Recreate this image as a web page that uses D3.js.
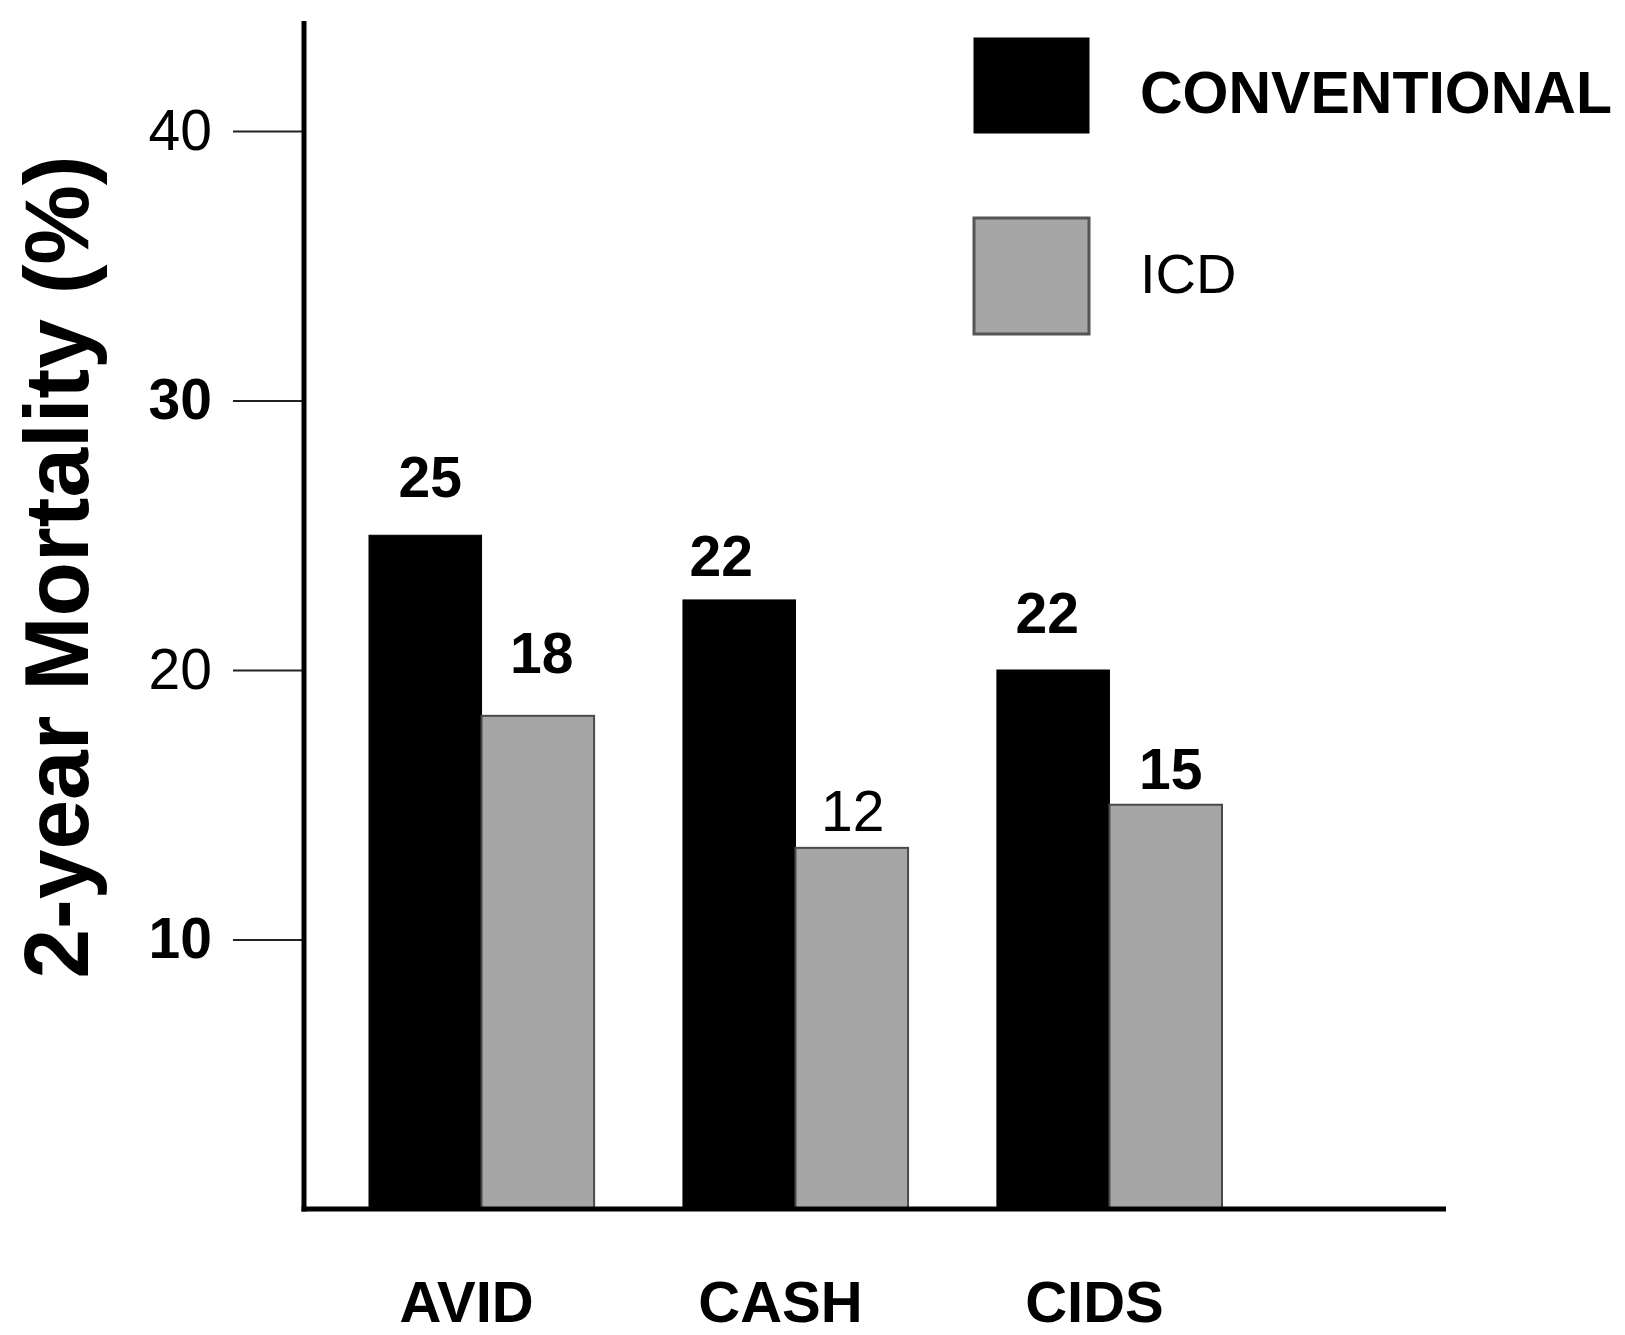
<!DOCTYPE html>
<html>
<head>
<meta charset="utf-8">
<script src="https://cdn.jsdelivr.net/npm/d3@7"></script>
<style>
  html, body { margin: 0; padding: 0; background: #fff; }
  svg { display: block; }
  text { font-family: "Liberation Sans", Arial, Helvetica, sans-serif; fill: #000; }
</style>
</head>
<body>
<svg id="chart" width="1625" height="1335"></svg>
<script>
// ---- data ----
const categories = ["AVID", "CASH", "CIDS"];
const seriesNames = ["CONVENTIONAL", "ICD"];
const conventionalValues = [25, 22.6, 20];
const icdValues = [18.3, 13.4, 15];
const conventionalLabels = ["25", "22", "22"];
const icdLabels = ["18", "12", "15"];
const conventionalLabelBold = [true, true, true];
const icdLabelBold = [true, false, true];
const tickValues = [10, 20, 30, 40];
const tickLabels = ["10", "20", "30", "40"];
const tickLabelBold = [true, false, true, false];
const yAxisTitle = "2-year Mortality (%)";

// ---- layout / style constants ----
const W = 1625, H = 1335;
const baseY = 1209, topY = 131, axisX = 304, axisTop = 21, axisRight = 1446;
const colors = { CONVENTIONAL: "#000000", ICD: "#a6a6a6" };
const strokes = { CONVENTIONAL: "#000000", ICD: "#4a4a4a" };
// per-bar label gap above bar top and horizontal nudge (layout only)
const labelGap = { CONVENTIONAL: [38, 24, 37], ICD: [43, 17, 16] };
const labelNudge = { CONVENTIONAL: [5, -18, -6], ICD: [4, 1, 5] };

const svg = d3.select("#chart");

const y = d3.scaleLinear().domain([0, 40]).range([baseY, topY]);
const x0 = d3.scaleBand().domain(categories).range([369, 1222]).paddingInner(0.283).paddingOuter(0);
const x1 = d3.scaleBand().domain(seriesNames).range([0, x0.bandwidth()]).padding(0);

const rows = categories.map((c, i) => ({
  cat: c,
  vals: [
    { s: "CONVENTIONAL", v: conventionalValues[i], label: conventionalLabels[i], bold: conventionalLabelBold[i], i },
    { s: "ICD", v: icdValues[i], label: icdLabels[i], bold: icdLabelBold[i], i }
  ]
}));

// bars
const g = svg.append("g");
const groups = g.selectAll("g.grp").data(rows).join("g")
  .attr("class", "grp")
  .attr("transform", d => `translate(${x0(d.cat)},0)`);

groups.selectAll("rect").data(d => d.vals).join("rect")
  .attr("x", d => x1(d.s))
  .attr("y", d => y(d.v))
  .attr("width", x1.bandwidth())
  .attr("height", d => y(0) - y(d.v))
  .attr("fill", d => colors[d.s])
  .attr("stroke", d => strokes[d.s])
  .attr("stroke-width", d => d.s === "ICD" ? 2 : 1);

// value labels
groups.selectAll("text.val").data(d => d.vals).join("text")
  .attr("class", "val")
  .attr("x", d => x1(d.s) + x1.bandwidth() / 2 + labelNudge[d.s][d.i])
  .attr("y", d => y(d.v) - labelGap[d.s][d.i])
  .attr("text-anchor", "middle")
  .attr("font-size", 57)
  .attr("font-weight", d => d.bold ? "bold" : "normal")
  .text(d => d.label);

// y axis (ticks + labels)
const yAxis = d3.axisLeft(y)
  .tickValues(tickValues)
  .tickSize(71)
  .tickPadding(21)
  .tickFormat((d, i) => tickLabels[i]);

const ya = svg.append("g").attr("transform", `translate(${axisX},0)`).call(yAxis);
ya.select(".domain").remove();
ya.selectAll(".tick line").attr("stroke", "#222").attr("stroke-width", 2);
ya.selectAll(".tick text")
  .attr("font-size", 57)
  .attr("font-family", "'Liberation Sans', Arial, sans-serif")
  .attr("fill", "#000")
  .attr("font-weight", (d, i) => tickLabelBold[i] ? "bold" : "normal");

// axis lines
svg.append("line")
  .attr("x1", axisX).attr("x2", axisX)
  .attr("y1", axisTop).attr("y2", baseY + 2.5)
  .attr("stroke", "#000").attr("stroke-width", 5);
svg.append("line")
  .attr("x1", axisX - 2.5).attr("x2", axisRight)
  .attr("y1", baseY).attr("y2", baseY)
  .attr("stroke", "#000").attr("stroke-width", 5);

// category labels
svg.selectAll("text.cat").data(categories).join("text")
  .attr("class", "cat")
  .attr("x", d => x0(d) + x0.bandwidth() / 2 - 15)
  .attr("y", 1322)
  .attr("text-anchor", "middle")
  .attr("font-size", 58)
  .attr("font-weight", "bold")
  .text(d => d);

// y axis title
svg.append("text")
  .attr("transform", `translate(88,567) rotate(-90)`)
  .attr("text-anchor", "middle")
  .attr("font-size", 91)
  .attr("font-weight", "bold")
  .attr("textLength", 823)
  .attr("lengthAdjust", "spacingAndGlyphs")
  .text(yAxisTitle);

// legend
const legend = svg.append("g");
const legendItems = [
  { s: seriesNames[0], y: 38, h: 95, ty: 113, bold: true, fs: 59, len: 472 },
  { s: seriesNames[1], y: 218, h: 116, ty: 293, bold: false, fs: 56, len: null }
];
legendItems.forEach(it => {
  legend.append("rect")
    .attr("x", 974).attr("y", it.y)
    .attr("width", 115).attr("height", it.h)
    .attr("fill", colors[it.s])
    .attr("stroke", it.s === "ICD" ? "#555" : "#000")
    .attr("stroke-width", it.s === "ICD" ? 3 : 1);
  const t = legend.append("text")
    .attr("x", 1140).attr("y", it.ty)
    .attr("font-size", it.fs)
    .attr("font-weight", it.bold ? "bold" : "normal")
    .text(it.s);
  if (it.len) t.attr("textLength", it.len).attr("lengthAdjust", "spacingAndGlyphs");
});
</script>
</body>
</html>
